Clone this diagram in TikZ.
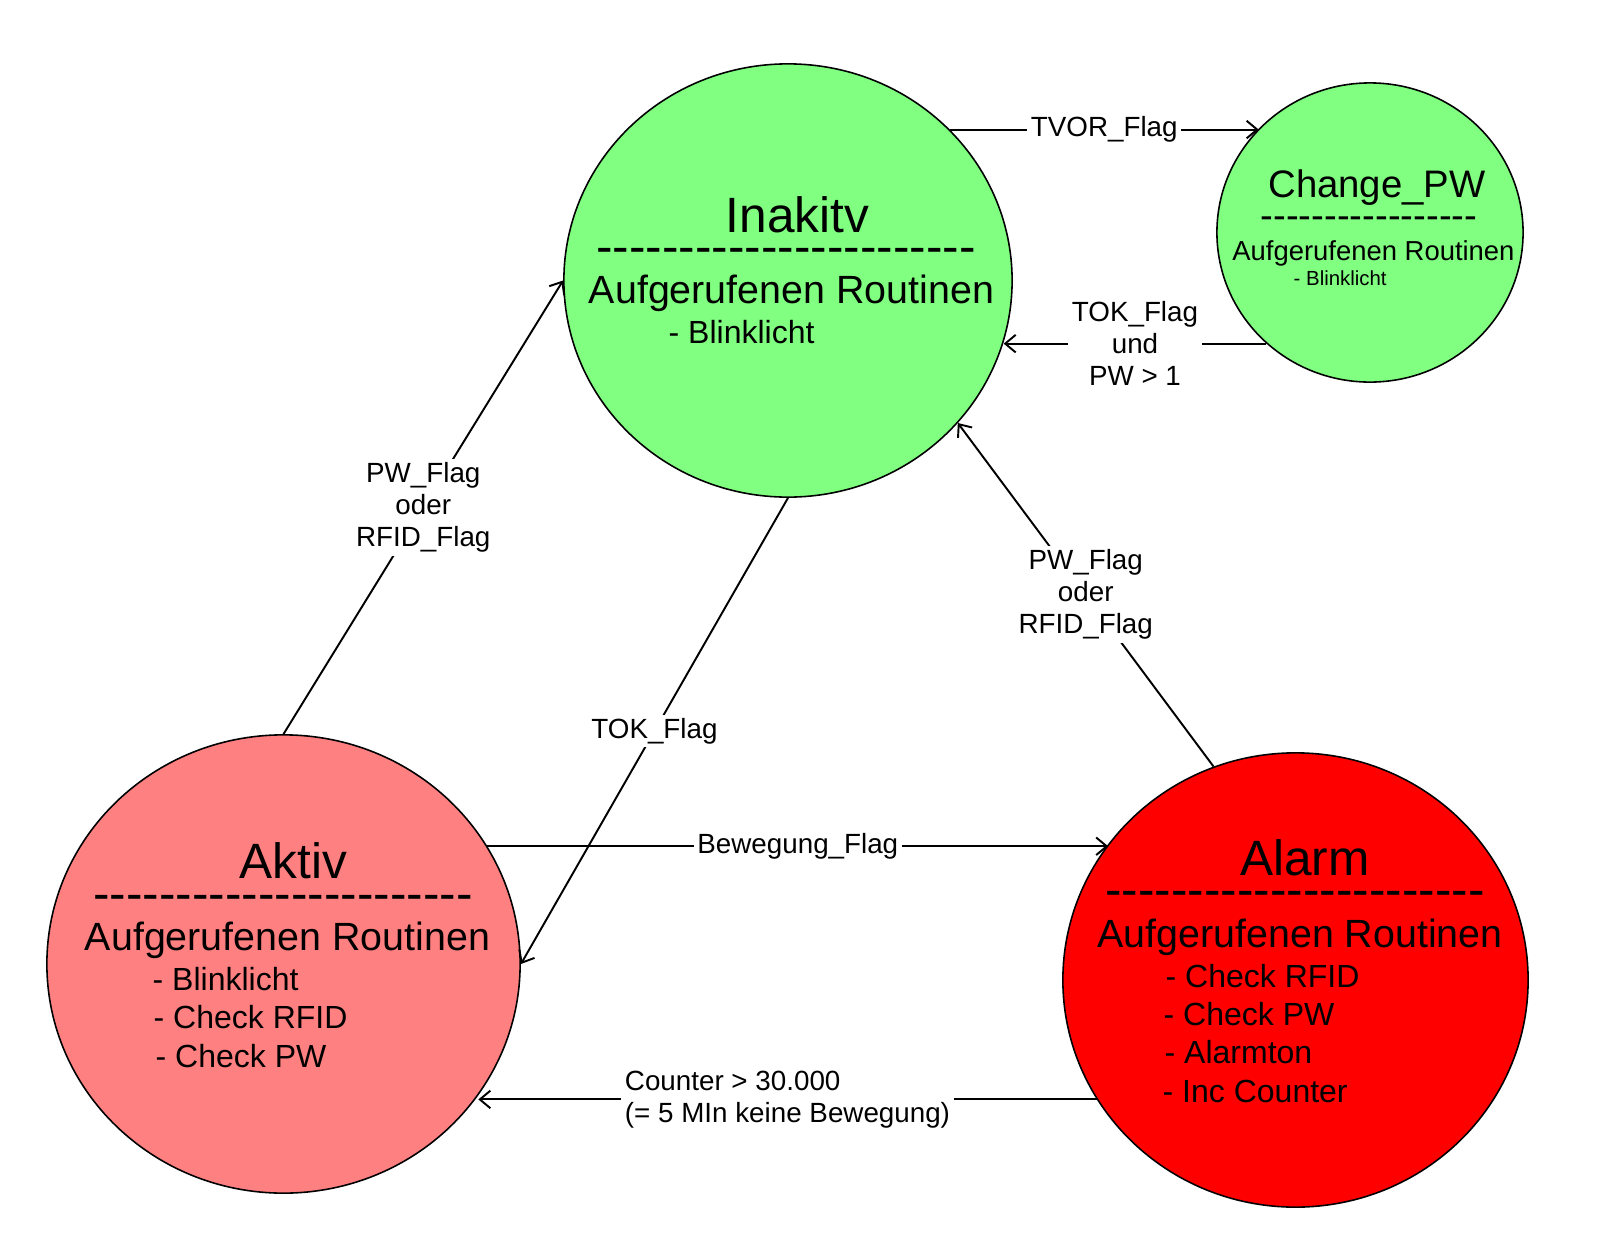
\documentclass[tikz,border=0pt]{standalone}
\usepackage{fontspec}
\setmainfont{Liberation Sans}
\usetikzlibrary{shapes.geometric}
\usetikzlibrary{arrows.meta}
\definecolor{hellgruen}{RGB}{128,255,128}
\definecolor{hellrot}{RGB}{255,128,128}
\definecolor{alarmrot}{RGB}{255,0,0}
\newcommand{\trennlinie}[1]{\foreach \zz in {1,...,#1}{\mbox{-}}}

\begin{document}
\begin{tikzpicture}[x=0.01cm, y=-0.01cm,
    zustand/.style={ellipse, draw, line width=0.45pt, inner sep=0pt},
    txt/.style={inner sep=0pt, anchor=base},
    titel/.style={txt, font=\fontsize{14.1}{16}\selectfont},
    trenner/.style={txt, text height=0.35em, text depth=0pt},
    routinen/.style={txt, font=\fontsize{11.2}{13}\selectfont},
    punkt/.style={txt, anchor=base west, font=\fontsize{9.1}{11}\selectfont},
    pfeil/.style={line width=0.55pt, -{Straight Barb[length=3pt,width=5pt]}},
    lbl/.style={fill=white, inner sep=1pt, align=center, font=\fontsize{7.9}{9.1}\selectfont}]

    \useasboundingbox (0,0) rectangle (1614,1248);

    % Zustaende
    \node[zustand, fill=hellgruen, minimum width=4.48cm, minimum height=4.33cm] (inak) at (788,280.5) {};
    \node[zustand, fill=hellgruen, minimum width=3.06cm, minimum height=2.99cm] (chg) at (1370,232.5) {};
    \node[zustand, fill=hellrot, minimum width=4.73cm, minimum height=4.58cm] (aktiv) at (283.5,964) {};
    \node[zustand, fill=alarmrot, minimum width=4.65cm, minimum height=4.54cm] (alarm) at (1295.5,980) {};

    % Inakitv
    \node[titel] (inak-t) at (797.5,232) {Inakitv};
    \node[titel, trenner] (inak-s) at (786,263) {\trennlinie{23}};
    \node[routinen] (inak-r) at (791.5,303) {Aufgerufenen Routinen};
    \node[punkt] (inak-p1) at (668,343) {- Blinklicht};

    % Change_PW
    \node[txt, font=\fontsize{10.9}{13}\selectfont] (chg-t) at (1377,197) {Change\_PW};
    \node[txt, trenner, font=\fontsize{10.9}{13}\selectfont] (chg-s) at (1369,228) {\trennlinie{17}};
    \node[txt, font=\fontsize{7.8}{9}\selectfont] (chg-r) at (1373.5,260) {Aufgerufenen Routinen};
    \node[txt, anchor=base west, font=\fontsize{5.8}{7}\selectfont] (chg-p1) at (1293,285) {- Blinklicht};

    % Aktiv
    \node[titel] (aktiv-t) at (293.5,878) {Aktiv};
    \node[titel, trenner] (aktiv-s) at (283,910) {\trennlinie{23}};
    \node[routinen] (aktiv-r) at (287.5,950) {Aufgerufenen Routinen};
    \node[punkt] (aktiv-p1) at (152,990) {- Blinklicht};
    \node[punkt] (aktiv-p2) at (153,1028) {- Check RFID};
    \node[punkt] (aktiv-p3) at (155,1067) {- Check PW};

    % Alarm
    \node[titel] (alarm-t) at (1305,875) {Alarm};
    \node[titel, trenner] (alarm-s) at (1295,906) {\trennlinie{23}};
    \node[routinen] (alarm-r) at (1300,947) {Aufgerufenen Routinen};
    \node[punkt] (alarm-p1) at (1165,987) {- Check RFID};
    \node[punkt] (alarm-p2) at (1163,1025) {- Check PW};
    \node[punkt] (alarm-p3) at (1164,1063) {- Alarmton};
    \node[punkt] (alarm-p4) at (1162,1102) {- Inc Counter};

    % Uebergaenge
    \draw[pfeil] (inak.43.1) -- node[lbl] (l-tvor) {TVOR\_Flag} (chg.137.5 |- inak.43.1);
    \draw[pfeil] (chg.-133.6) -- node[lbl] (l-tok-pw) {TOK\_Flag\\und\\PW > 1} (inak.-16 |- chg.-133.6);
    \draw[pfeil] (aktiv.30.2) -- node[lbl] (l-beweg) {Bewegung\_Flag} (alarm.144.8 |- aktiv.30.2);
    \draw[pfeil] (alarm.-149.3) -- node[lbl, align=left] (l-counter) {Counter > 30.000\\(= 5 MIn keine Bewegung)} (aktiv.-34.9 |- alarm.-149.3);
    \draw[pfeil] (aktiv.90) -- node[lbl] (l-aktiv-inak) {PW\_Flag\\oder\\RFID\_Flag} (inak.180);
    \draw[pfeil] (alarm.111.3) -- node[lbl] (l-alarm-inak) {PW\_Flag\\oder\\RFID\_Flag} (inak.-40.6);
    \draw[pfeil] (inak.-90) -- node[lbl] (l-tok) {TOK\_Flag} (aktiv.0);

\end{tikzpicture}
\end{document}
